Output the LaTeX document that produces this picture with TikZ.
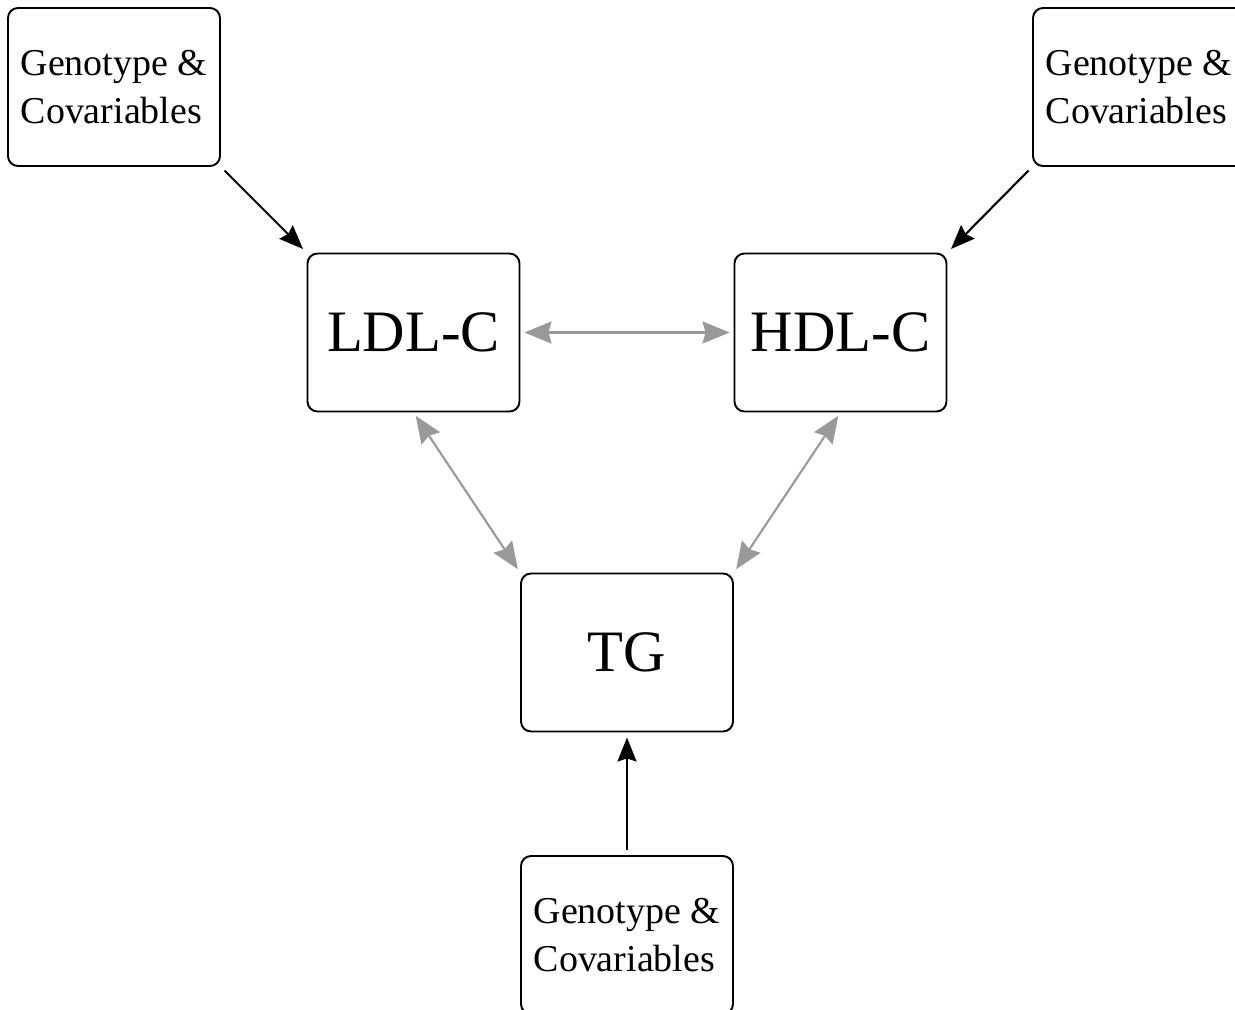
\documentclass[tikz,border=0pt]{standalone}
\usepackage{fontspec}
\setmainfont{Liberation Serif}
\usetikzlibrary{arrows.meta}

\begin{document}
\begin{tikzpicture}[
                    node distance=8.54cm,
                    every node/.style={
                        rectangle,
                        draw,
                        rounded corners=0.2cm,
                        line width=1.1pt,
                        minimum width=4.24cm,
                        minimum height=3.16cm,
                        inner sep=0pt,
                        align=left
                    },
                    lipid/.style={font=\fontsize{33.4}{40}\selectfont},
                    cov/.style={font=\fontsize{21.6}{27.6}\selectfont},
                    effect/.style={-{Stealth[length=0.48cm,width=0.38cm,inset=0.06cm]}, line width=1.2pt, shorten <=0.1cm, shorten >=0.1cm},
                    assoc/.style={{Stealth[length=0.54cm,width=0.44cm,inset=0.06cm]}-{Stealth[length=0.54cm,width=0.44cm,inset=0.06cm]}, draw=gray!80, line width=1.2pt, shorten <=0.08cm, shorten >=0.08cm}
                ]
                    \useasboundingbox (0,0) rectangle (24.7,-20.2);

                    \node[lipid] (ldl) at (8.27,-6.65) {LDL-C};
                    \node[lipid] (hdl) [right of=ldl] {HDL-C};
                    \node[lipid] (tg) at (12.54,-13.05) {TG};
                    \node[cov] (covldl) at (2.28,-1.74) {Genotype \&\\Covariables};
                    \node[cov] (covhdl) at (22.78,-1.74) {Genotype \&\\Covariables};
                    \node[cov] (covtg) at (12.54,-18.7) {Genotype \&\\Covariables};

                    % Edges
                    \draw[effect] (covldl.south east) -- (ldl.north west);
                    \draw[effect] (covhdl.south west) -- (hdl.north east);
                    \draw[effect] (covtg.north) -- (tg.south);
                    \draw[assoc] (ldl.east) -- (hdl.west);
                    \draw[assoc] (ldl.south) -- (tg.north west);
                    \draw[assoc] (hdl.south) -- (tg.north east);
                \end{tikzpicture}
\end{document}
